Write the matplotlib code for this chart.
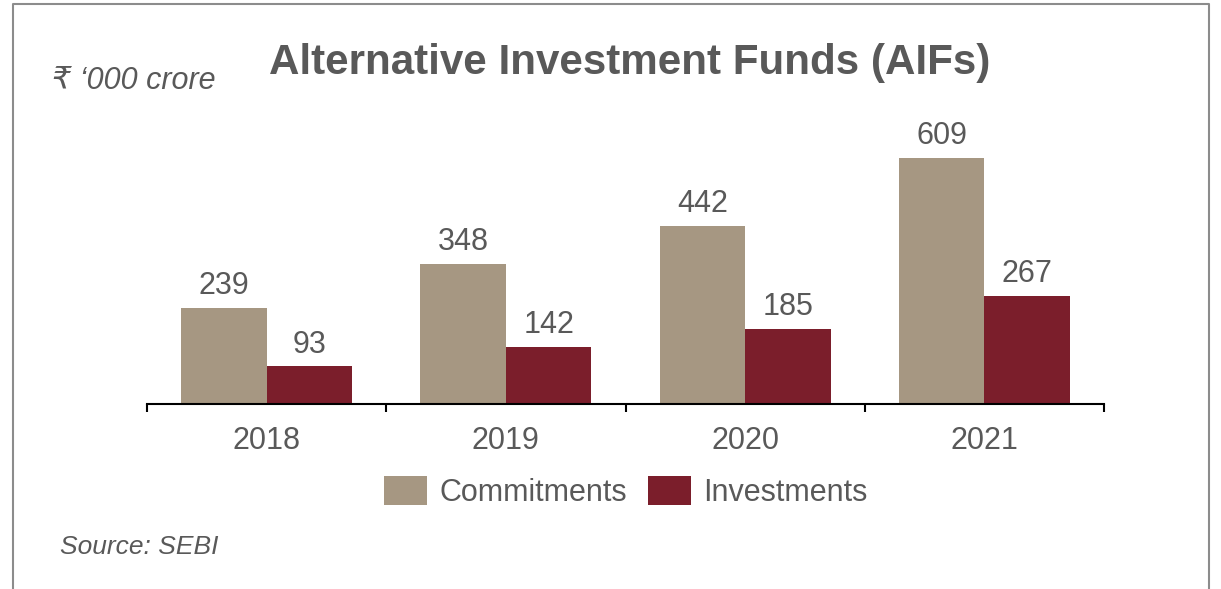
import numpy as np
import matplotlib
matplotlib.use("Agg")
import matplotlib.pyplot as plt
from matplotlib.lines import Line2D

plt.rcParams['font.family'] = ['Liberation Sans', 'DejaVu Sans']

years = ['2018', '2019', '2020', '2021']
commitments = [239, 348, 442, 609]
investments = [93, 142, 185, 267]

tan = '#A69782'
maroon = '#7B1E2B'
grey = '#595959'

fig = plt.figure(figsize=(12.21, 5.89), dpi=100)
ax = fig.add_axes([147 / 1221, 1 - 404 / 589, 957 / 1221, 304 / 589])

x = np.arange(len(years))
w = 0.357
b1 = ax.bar(x - w / 2, commitments, w, color=tan, label='Commitments')
b2 = ax.bar(x + w / 2, investments, w, color=maroon, label='Investments')
for bars in (b1, b2):
    ax.bar_label(bars, padding=5, fontsize=22, color=grey)

ax.set_xlim(-0.5, len(years) - 0.5)
ax.set_ylim(0, 753)
ax.set_yticks([])
for s in ['left', 'right', 'top']:
    ax.spines[s].set_visible(False)
ax.spines['bottom'].set_linewidth(1.5)
ax.spines['bottom'].set_color('black')

ax.set_xticks(x)
ax.set_xticklabels(years, fontsize=22, color=grey)
ax.tick_params(axis='x', which='major', length=0, pad=16)
ax.set_xticks(np.arange(-0.5, len(years)), minor=True)
ax.tick_params(axis='x', which='minor', length=6, width=1.5, direction='out')

fig.legend(loc='center', bbox_to_anchor=(626 / 1221, 1 - 492 / 589), ncol=2,
           frameon=False, fontsize=22, labelcolor=grey,
           handlelength=1.4, handleheight=1.08, handletextpad=0.4,
           columnspacing=0.7)

fig.text(630 / 1221, 1 - 63 / 589, 'Alternative Investment Funds (AIFs)',
         ha='center', va='center', fontsize=30.3, fontweight='bold', color=grey)
fig.text(52 / 1221, 1 - 81 / 589, '₹ ‘000 crore', ha='left', va='center',
         fontsize=22, style='italic', color=grey)
fig.text(60 / 1221, 1 - 547 / 589, 'Source: SEBI', ha='left', va='center',
         fontsize=19, style='italic', color=grey)

# frame round the chart (open at the bottom)
bx = [12.5 / 1221, 12.5 / 1221, 1209 / 1221, 1209 / 1221]
by = [0, 1 - 3.5 / 589, 1 - 3.5 / 589, 0]
fig.add_artist(Line2D(bx, by, transform=fig.transFigure, color='#8c8c8c',
                      linewidth=1.5))

fig.savefig('out.png', dpi=100)
